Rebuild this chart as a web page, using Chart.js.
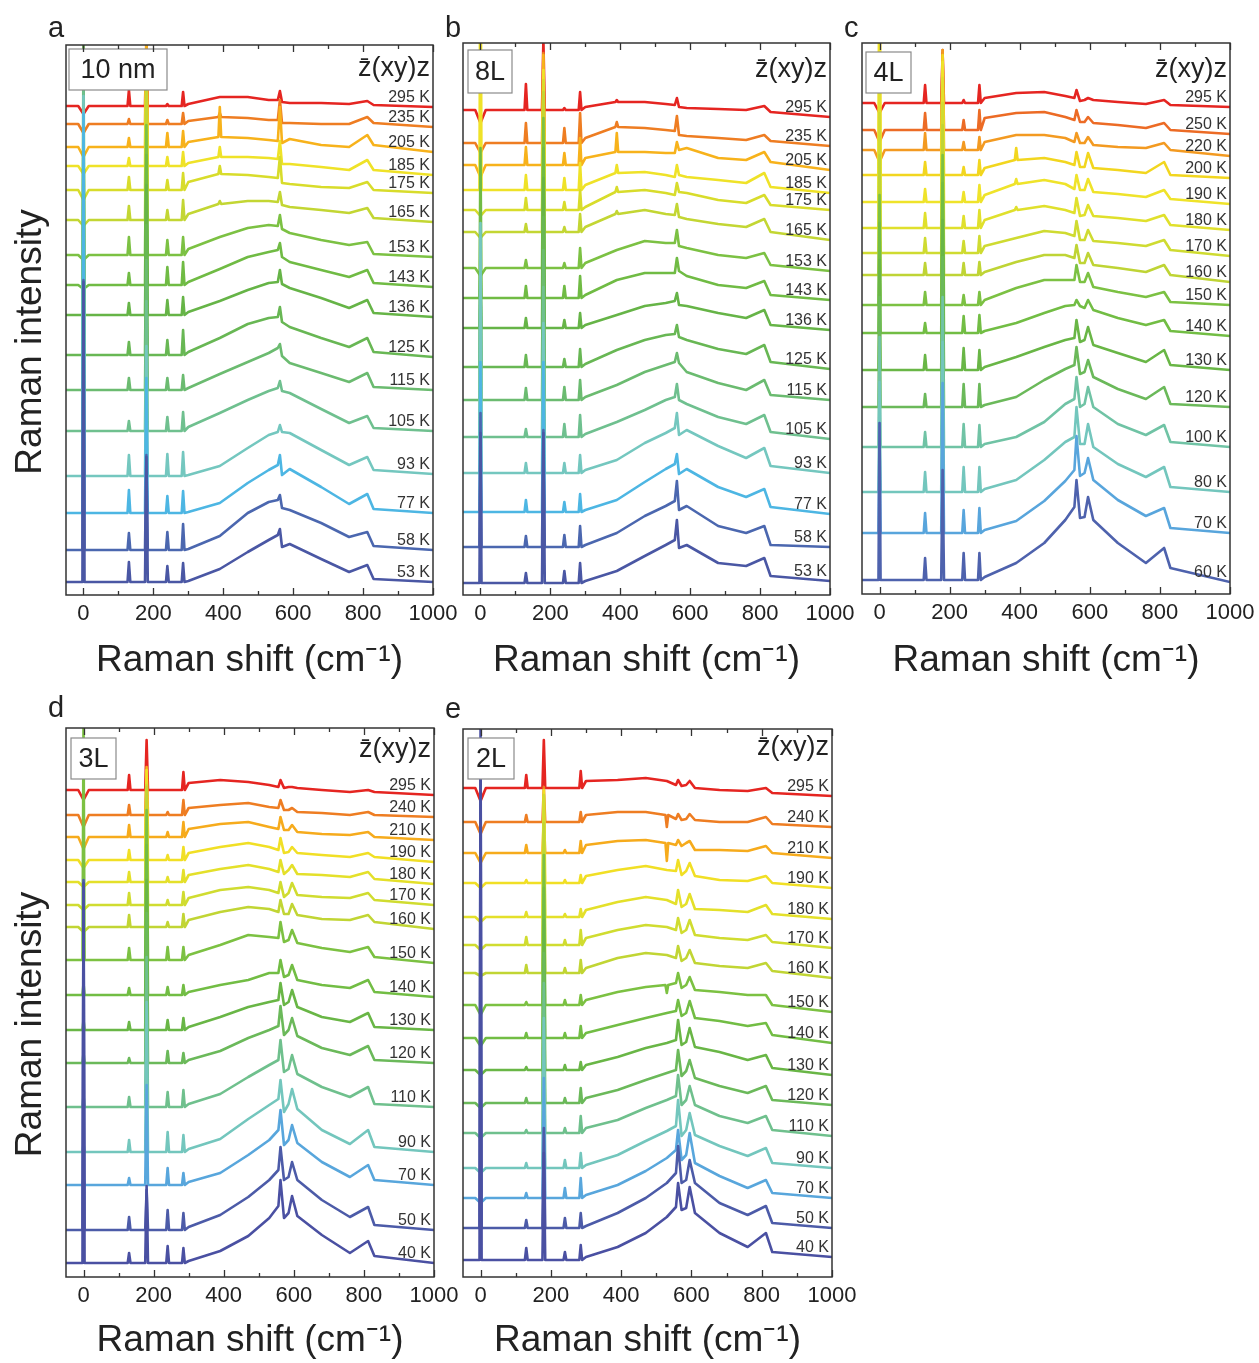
<!DOCTYPE html>
<html>
<head>
<meta charset="utf-8">
<script src="https://cdn.jsdelivr.net/npm/chart.js@4.4.1/dist/chart.umd.min.js"></script>
<style>
  body { margin: 0; background: #fff; width: 1259px; height: 1363px; position: relative; overflow: hidden; }
  canvas { position: absolute; }
</style>
</head>
<body>
<script>
// x axis (Raman shift, cm-1)
const shiftTicks = [0, 100, 200, 300, 400, 500, 600, 700, 800, 900, 1000];

// knots of the broad background, and positions of the sharp lines
const knotsAB = [300, 390, 470, 530, 556, 562, 568, 590, 680, 760, 812, 830, 1000];
const knotsCDE = [300, 390, 470, 530, 556, 562, 572, 585, 595, 610, 680, 760, 812, 830, 1000];
const peaksA = [0, 130, 180, 240, 285, 390];
const peaksB = [0, 130, 180, 240, 285, 390];
const peaksC = [0, 130, 180, 240, 285, 390];
const peaksD = [0, 130, 180, 240, 285];
const peaksE = [0, 130, 180, 240, 285, 530];

// ---- a: 10 nm ----
const tempsA = [295, 235, 205, 185, 175, 165, 153, 143, 136, 125, 115, 105, 93, 77, 58, 53];
const offsetA = [489, 471, 448, 429, 405, 375, 340, 310, 280, 240, 205, 164, 119, 82, 45, 13];
const bgA = [
  [2, 9, 9, 6, 6, 15, 4, 3, 3, 2, 5, 1, -1],
  [3, 7, 6, 4, 4, 24, 1, 1, 0, 0, 7, 1, -3],
  [5, 10, 9, 7, 6, 40, 4, 8, 2, 0, 12, 2, -5],
  [3, 9, 9, 8, 7, 25, 2, 2, -1, -4, 6, -4, -9],
  [8, 16, 15, 13, 12, 33, 7, 6, 3, 2, 8, 0, -3],
  [6, 16, 19, 19, 18, 28, 15, 13, 10, 7, 12, 2, -2],
  [6, 18, 27, 30, 29, 40, 26, 22, 15, 10, 13, 1, -2],
  [3, 16, 28, 33, 35, 42, 28, 23, 15, 8, 15, 2, -2],
  [3, 14, 25, 32, 33, 45, 31, 27, 17, 7, 15, 2, -2],
  [3, 17, 31, 37, 38, 48, 33, 28, 17, 8, 17, 3, -2],
  [2, 16, 28, 37, 42, 46, 34, 27, 17, 8, 17, 3, 0],
  [4, 18, 31, 40, 43, 50, 40, 38, 22, 8, 15, 3, 0],
  [1, 10, 28, 41, 44, 51, 44, 43, 26, 11, 19, 6, 2],
  [1, 10, 30, 43, 48, 58, 38, 44, 26, 9, 19, 4, 0],
  [1, 14, 37, 48, 50, 55, 42, 40, 27, 13, 18, 4, 0],
  [1, 13, 30, 42, 47, 53, 35, 38, 23, 10, 17, 3, 0]
];
const peakHA = [
  [-8, 16, 60, 2, 14, 0],
  [-9, 5, 90, 4, 11, 4],
  [-10, 9, 110, 14, 16, 30],
  [-8, 8, 110, 9, 14, 10],
  [-10, 13, 120, 10, 17, 8],
  [-6, 14, 130, 10, 20, 3],
  [-5, 18, 130, 15, 18, 0],
  [-4, 12, 130, 18, 23, 0],
  [280, 12, 130, 15, 18, 0],
  [250, 13, 130, 15, 25, 0],
  [300, 12, 130, 12, 15, 0],
  [340, 10, 130, 14, 19, 0],
  [380, 21, 130, 22, 24, 0],
  [400, 23, 135, 17, 22, 0],
  [270, 17, 95, 18, 26, 0],
  [300, 20, 125, 16, 19, 0]
];

// ---- b: 8L ----
const tempsB = [295, 235, 205, 185, 175, 165, 153, 143, 136, 125, 115, 105, 93, 77, 58, 53];
const offsetB = [485, 452, 430, 405, 385, 363, 327, 297, 267, 228, 195, 158, 122, 83, 48, 12];
const bgB = [
  [3, 8, 8, 6, 5, 12, 3, 2, 1, 0, 4, -2, -7],
  [5, 16, 15, 13, 12, 27, 8, 7, 5, 3, 8, 2, -3],
  [7, 13, 13, 12, 12, 23, 15, 17, 7, 5, 13, 3, -5],
  [5, 17, 18, 15, 13, 25, 15, 13, 10, 7, 17, 3, -3],
  [3, 18, 20, 17, 15, 27, 18, 17, 10, 7, 15, 5, 0],
  [5, 18, 22, 18, 17, 28, 15, 13, 8, 5, 13, 0, -8],
  [5, 18, 27, 25, 25, 38, 22, 20, 13, 10, 15, 3, -3],
  [3, 18, 25, 25, 25, 40, 27, 22, 13, 10, 17, 3, -2],
  [3, 13, 22, 25, 27, 35, 23, 22, 15, 10, 18, 3, -2],
  [3, 17, 27, 32, 33, 42, 30, 27, 18, 13, 22, 5, -2],
  [3, 15, 28, 35, 38, 47, 37, 28, 17, 10, 20, 5, 0],
  [3, 15, 27, 37, 40, 53, 37, 33, 20, 13, 22, 5, -2],
  [3, 13, 30, 40, 45, 60, 38, 43, 27, 15, 25, 7, 0],
  [2, 12, 30, 43, 48, 58, 38, 43, 25, 15, 23, 5, -2],
  [2, 14, 31, 41, 46, 66, 37, 41, 21, 14, 21, 2, 0],
  [2, 12, 27, 38, 43, 63, 35, 38, 20, 17, 25, 7, 2]
];
const peakHB = [
  [-13, 26, 70, 2, 18, 2],
  [-10, 20, 90, 15, 30, 5],
  [-12, 18, 110, 12, 27, 19],
  [300, 15, 120, 12, 27, 8],
  [-6, 12, 130, 8, 20, 5],
  [-6, 8, 140, 5, 18, 3],
  [-8, 8, 150, 5, 20, 0],
  [150, 12, 150, 12, 22, 0],
  [60, 10, 150, 8, 15, 0],
  [100, 12, 150, 8, 18, 0],
  [150, 12, 150, 13, 20, 0],
  [200, 8, 150, 13, 22, 0],
  [250, 10, 150, 10, 18, 0],
  [150, 12, 150, 10, 18, 0],
  [134, 11, 117, 12, 21, 0],
  [150, 10, 150, 12, 20, 0]
];

// ---- c: 4L ----
const tempsC = [295, 250, 220, 200, 190, 180, 170, 160, 150, 140, 130, 120, 100, 80, 70, 60];
const offsetC = [491, 464, 444, 419, 392, 366, 341, 319, 289, 261, 224, 187, 147, 102, 61, 14];
const bgC = [
  [5, 10, 11, 7, 5, 13, 2, 3, 5, 3, 1, -1, 3, -2, -4],
  [12, 17, 18, 13, 10, 20, 8, 8, 13, 7, 5, 2, 7, 0, -4],
  [8, 15, 15, 12, 8, 17, 7, 7, 13, 5, 3, 2, 7, 0, -6],
  [7, 15, 17, 13, 10, 23, 8, 8, 22, 7, 5, 2, 13, 0, -3],
  [7, 18, 22, 18, 13, 27, 12, 12, 23, 10, 8, 5, 12, 3, -2],
  [8, 18, 22, 18, 15, 30, 12, 13, 23, 12, 10, 7, 13, 3, -2],
  [7, 15, 22, 20, 17, 32, 13, 13, 23, 12, 10, 7, 13, 3, -3],
  [3, 13, 20, 20, 17, 30, 12, 12, 22, 10, 7, 3, 10, 0, -7],
  [5, 17, 25, 25, 25, 40, 23, 23, 32, 18, 13, 8, 13, 3, 0],
  [2, 10, 20, 27, 28, 33, 27, 25, 33, 23, 15, 8, 13, 2, -3],
  [3, 13, 23, 30, 32, 50, 28, 30, 43, 25, 17, 8, 20, 5, 0],
  [2, 10, 27, 38, 42, 60, 33, 35, 47, 30, 18, 8, 20, 3, 0],
  [3, 10, 25, 43, 48, 70, 40, 43, 60, 40, 23, 12, 22, 5, 0],
  [3, 12, 32, 50, 55, 85, 48, 48, 68, 45, 28, 15, 25, 5, 0],
  [3, 12, 32, 52, 63, 97, 57, 60, 75, 53, 33, 17, 25, 5, 0],
  [3, 17, 37, 60, 73, 100, 62, 63, 83, 60, 37, 17, 32, 12, -2]
];
const peakHC = [
  [-10, 18, 50, 3, 18, 0],
  [-12, 17, 80, 10, 20, 0],
  [-12, 17, 100, 8, 13, 0],
  [300, 13, 120, 8, 15, 12],
  [200, 13, 140, 10, 17, 5],
  [160, 15, 150, 12, 18, 3],
  [140, 15, 150, 12, 17, 0],
  [120, 12, 150, 12, 13, 0],
  [110, 13, 150, 10, 13, 0],
  [110, 10, 150, 17, 18, 0],
  [110, 15, 150, 22, 20, 0],
  [110, 13, 150, 23, 23, 0],
  [110, 15, 150, 23, 22, 0],
  [110, 20, 150, 25, 25, 0],
  [110, 20, 150, 23, 25, 0],
  [157, 22, 110, 27, 27, 0]
];

// ---- d: 3L ----
const tempsD = [295, 240, 210, 190, 180, 170, 160, 150, 140, 130, 120, 110, 90, 70, 50, 40];
const offsetD = [487, 462, 440, 417, 395, 372, 350, 317, 282, 247, 214, 170, 125, 92, 47, 14];
const bgD = [
  [7, 10, 8, 5, 3, 10, 2, 3, 3, 2, 0, -2, 0, -2, -5],
  [7, 10, 12, 8, 7, 15, 5, 5, 7, 3, 2, 0, 3, 0, -2],
  [8, 13, 15, 10, 8, 20, 7, 7, 12, 5, 3, 2, 5, 0, -3],
  [7, 13, 17, 13, 10, 22, 7, 8, 13, 7, 5, 3, 7, 3, -2],
  [7, 13, 17, 13, 10, 22, 8, 12, 17, 8, 7, 5, 10, 3, -2],
  [7, 15, 18, 15, 12, 23, 8, 12, 22, 10, 8, 7, 12, 5, 0],
  [7, 15, 20, 18, 15, 27, 13, 13, 23, 12, 8, 7, 12, 5, -2],
  [5, 15, 25, 23, 22, 38, 18, 20, 30, 17, 12, 8, 13, 3, -3],
  [3, 10, 15, 22, 22, 35, 18, 20, 30, 15, 10, 7, 15, 3, -2],
  [3, 13, 23, 28, 30, 47, 25, 28, 40, 23, 13, 8, 17, 3, 0],
  [3, 12, 25, 33, 37, 57, 28, 33, 45, 27, 15, 8, 17, 3, 0],
  [3, 13, 30, 42, 47, 67, 35, 38, 52, 33, 20, 10, 20, 3, 0],
  [3, 13, 33, 47, 53, 72, 40, 48, 63, 43, 22, 8, 22, 5, 0],
  [3, 12, 30, 45, 55, 75, 40, 45, 60, 42, 23, 8, 20, 5, 0],
  [3, 15, 33, 50, 60, 83, 50, 53, 68, 50, 30, 13, 23, 5, 0],
  [2, 12, 27, 45, 57, 83, 45, 50, 67, 47, 28, 10, 22, 7, 0]
];
const peakHD = [
  [-10, 15, 50, 0, 18],
  [-12, 10, 45, 3, 15],
  [-12, 12, 70, 5, 15],
  [-8, 10, 90, 5, 13],
  [-5, 10, 100, 5, 12],
  [-5, 12, 120, 5, 13],
  [-5, 12, 140, 5, 13],
  [240, 12, 150, 13, 13],
  [12, 7, 150, 8, 10],
  [10, 8, 150, 10, 12],
  [10, 5, 150, 12, 10],
  [12, 10, 150, 15, 17],
  [8, 12, 150, 20, 17],
  [8, 7, 100, 17, 12],
  [350, 13, 40, 20, 17],
  [380, 10, 77, 17, 15]
];

// ---- e: 2L ----
const tempsE = [295, 240, 210, 190, 180, 170, 160, 150, 140, 130, 120, 110, 90, 70, 50, 40];
const offsetE = [489, 455, 424, 394, 360, 332, 304, 272, 239, 207, 174, 144, 109, 79, 49, 17];
const bgE = [
  [7, 8, 10, 7, 3, 8, 2, 3, 7, 0, -2, -3, 0, -5, -8],
  [7, 10, 10, 7, 3, 8, 2, 3, 8, 2, 0, 0, 5, -2, -5],
  [8, 12, 13, 10, 8, 13, 7, 10, 12, 3, 3, 2, 7, 0, -5],
  [7, 13, 17, 13, 12, 23, 8, 12, 20, 7, 3, 2, 7, 0, -5],
  [7, 15, 20, 17, 13, 27, 10, 13, 23, 8, 7, 5, 12, 3, -2],
  [7, 15, 20, 18, 15, 27, 12, 15, 25, 10, 7, 5, 10, 3, -3],
  [5, 15, 20, 18, 15, 27, 12, 15, 23, 10, 7, 5, 10, 2, -5],
  [5, 13, 18, 20, 22, 32, 17, 20, 28, 15, 13, 10, 10, 0, -7],
  [5, 13, 20, 25, 27, 38, 22, 25, 37, 20, 17, 12, 15, 3, -5],
  [5, 13, 22, 27, 30, 50, 25, 28, 42, 23, 18, 10, 15, 2, -5],
  [5, 13, 23, 30, 33, 53, 27, 32, 43, 25, 17, 10, 17, 3, -2],
  [5, 13, 25, 33, 37, 58, 28, 33, 47, 28, 17, 10, 17, 3, -3],
  [3, 13, 27, 37, 42, 68, 32, 38, 55, 33, 22, 12, 20, 5, 0],
  [3, 13, 27, 40, 48, 68, 38, 43, 65, 35, 22, 10, 18, 5, 0],
  [2, 15, 30, 45, 55, 82, 45, 48, 68, 45, 25, 13, 22, 5, 0],
  [3, 13, 27, 43, 53, 77, 50, 52, 73, 47, 27, 13, 27, 8, 3]
];
const peakHE = [
  [-13, 13, 48, 0, 17, 0],
  [-12, 7, 35, 0, 10, -12],
  [-10, 8, 35, 3, 12, -18],
  [-5, 3, 93, 3, 8, 0],
  [-5, 5, 120, 3, 8, 0],
  [-5, 8, 150, 5, 15, 0],
  [-3, 8, 150, 5, 13, 0],
  [-10, 3, 150, 5, 10, -8],
  [-8, 5, 150, 5, 12, 0],
  [-5, 3, 150, 5, 8, 0],
  [-5, 5, 150, 5, 15, 0],
  [-5, 3, 150, 5, 17, 0],
  [-5, 5, 150, 8, 15, 0],
  [-5, 5, 120, 10, 20, 0],
  [480, 8, 100, 10, 15, 0],
  [540, 12, 107, 8, 15, 0]
];

// colours, red (hot) -> blue (cold)
const paletteAB = ['#e52521', '#ee7d22', '#f7b21b', '#efe228', '#d8dc2b', '#c3d633', '#7cc143', '#70bb44',
                   '#66b447', '#68b754', '#6bbb70', '#6fc08f', '#74c7bf', '#4db6e3', '#4b67af', '#4a57a4'];
const paletteC = ['#e52521', '#ec6b25', '#f39a21', '#f2d61f', '#efe32a', '#e0e02c', '#cfdb31', '#bfd435',
                  '#7cc143', '#72bd44', '#69b646', '#6bb95a', '#70c3a5', '#73c6bd', '#58a5dc', '#4e62ad'];
const paletteDE = ['#e52521', '#ee7d22', '#f6ab1c', '#f1df25', '#e4e02a', '#d0dc30', '#c1d534', '#7cc142',
                   '#72bd44', '#69b646', '#6bb95a', '#6fc08d', '#73c6bd', '#58a6dc', '#4c5ba8', '#4a50a2'];

const FONT = '"Liberation Sans", Arial, sans-serif';
Chart.defaults.font.family = FONT;
Chart.defaults.color = '#222';

// one spectrum: flat baseline with sharp lines below 300 cm-1, then the broad background
function spectrum(off, bg, ph, knots, peaks) {
  const pts = [{ x: -50, y: off }];
  peaks.forEach((p, j) => {
    if (p >= 300) return;
    const h = ph[j];
    const w = p === 0 ? (h < 0 ? 15 : 3) : 4;
    pts.push({ x: p - w, y: off }, { x: p, y: off + h }, { x: p + w, y: off });
  });
  knots.forEach((k, i) => {
    const j = peaks.indexOf(k);
    const v = off + bg[i];
    if (j >= 0 && ph[j] !== 0) {
      pts.push({ x: k - 4, y: v }, { x: k, y: v + ph[j] }, { x: k + 4, y: v });
    } else {
      pts.push({ x: k, y: v });
    }
  });
  return pts;
}

const annot = {
  id: 'annot',
  afterDatasetsDraw(chart, args, o) {
    const ctx = chart.ctx, a = chart.chartArea;
    const xs = chart.scales.x, ys = chart.scales.y;
    ctx.save();
    // sample box (opaque, above the curves)
    ctx.fillStyle = '#fff';
    ctx.strokeStyle = '#8a8a8a';
    ctx.lineWidth = 1.2;
    ctx.fillRect(a.left + o.box[0], a.top + o.box[1], o.box[2], o.box[3]);
    ctx.strokeRect(a.left + o.box[0], a.top + o.box[1], o.box[2], o.box[3]);
    ctx.fillStyle = '#222';
    ctx.font = '27px ' + FONT;
    ctx.textAlign = 'center';
    ctx.textBaseline = 'middle';
    ctx.fillText(o.sample, a.left + o.box[0] + o.box[2] / 2, a.top + o.box[1] + o.box[3] / 2 + 1);
    // frame
    ctx.strokeStyle = '#333';
    ctx.lineWidth = 1.5;
    ctx.strokeRect(a.left, a.top, a.right - a.left, a.bottom - a.top);
    // inward ticks on top and bottom
    ctx.lineWidth = 1.3;
    ctx.beginPath();
    shiftTicks.forEach(v => {
      const px = Math.round(xs.getPixelForValue(v)) + 0.5;
      const len = v % 200 === 0 ? 7 : 4;
      ctx.moveTo(px, a.bottom); ctx.lineTo(px, a.bottom - len);
      ctx.moveTo(px, a.top); ctx.lineTo(px, a.top + len);
    });
    ctx.stroke();
    // temperature labels
    ctx.fillStyle = '#333';
    ctx.font = '16px ' + FONT;
    ctx.textAlign = 'right';
    ctx.textBaseline = 'middle';
    o.temps.forEach((t, i) => {
      const end = o.off[i] + o.bg[i][o.bg[i].length - 1];
      ctx.fillText(t + ' K', a.right - 3, ys.getPixelForValue(end) - 9);
    });
    // scattering geometry
    ctx.fillStyle = '#222';
    ctx.font = '27px ' + FONT;
    ctx.fillText('z\u0304(xy)z', a.right - 3, a.top + o.geoDy);
    // panel letter
    ctx.textAlign = 'left';
    ctx.textBaseline = 'alphabetic';
    ctx.font = '29px ' + FONT;
    ctx.fillText(o.letter, a.left - 18, a.top + o.letterDy);
    // y title
    if (o.yTitle) {
      ctx.save();
      ctx.translate(31, (a.top + a.bottom) / 2 + 22);
      ctx.rotate(-Math.PI / 2);
      ctx.textAlign = 'center';
      ctx.textBaseline = 'middle';
      ctx.font = '37px ' + FONT;
      ctx.fillText('Raman intensity', 0, 0);
      ctx.restore();
    }
    ctx.restore();
  }
};

const panels = [
  { letter: 'a', sample: '10 nm', temps: tempsA, off: offsetA, bg: bgA, ph: peakHA, knots: knotsAB, peaks: peaksA, colors: paletteAB,
    left: 0, top: 0, w: 463, h: 683, yW: 66, padTop: 45, padRight: 30, xH: 88, yMax: 550, yTitle: true,
    box: [3, 4, 98, 41], geoDy: 24, letterDy: -8 },
  { letter: 'b', sample: '8L', temps: tempsB, off: offsetB, bg: bgB, ph: peakHB, knots: knotsAB, peaks: peaksB, colors: paletteAB,
    left: 440, top: 0, w: 420, h: 683, yW: 23, padTop: 43, padRight: 30, xH: 88, yMax: 552, yTitle: false,
    box: [5, 7, 44, 43], geoDy: 27, letterDy: -6 },
  { letter: 'c', sample: '4L', temps: tempsC, off: offsetC, bg: bgC, ph: peakHC, knots: knotsCDE, peaks: peaksC, colors: paletteC,
    left: 840, top: 0, w: 422, h: 683, yW: 22, padTop: 43, padRight: 32, xH: 89, yMax: 551, yTitle: false,
    box: [4, 9, 45, 41], geoDy: 27, letterDy: -6 },
  { letter: 'd', sample: '3L', temps: tempsD, off: offsetD, bg: bgD, ph: peakHD, knots: knotsCDE, peaks: peaksD, colors: paletteDE,
    left: 0, top: 685, w: 463, h: 678, yW: 66, padTop: 43, padRight: 29, xH: 86, yMax: 549, yTitle: true,
    box: [5, 10, 45, 41], geoDy: 22, letterDy: -11 },
  { letter: 'e', sample: '2L', temps: tempsE, off: offsetE, bg: bgE, ph: peakHE, knots: knotsCDE, peaks: peaksE, colors: paletteDE,
    left: 440, top: 685, w: 422, h: 678, yW: 23, padTop: 44, padRight: 30, xH: 86, yMax: 548, yTitle: false,
    box: [5, 9, 46, 41], geoDy: 19, letterDy: -11 }
];

panels.forEach(p => {
  const cv = document.createElement('canvas');
  cv.width = p.w; cv.height = p.h;
  cv.style.left = p.left + 'px'; cv.style.top = p.top + 'px';
  cv.style.width = p.w + 'px'; cv.style.height = p.h + 'px';
  document.body.appendChild(cv);

  const n = p.temps.length;
  const datasets = p.temps.map((t, i) => ({
    label: t + ' K',
    data: spectrum(p.off[i], p.bg[i], p.ph[i], p.knots, p.peaks),
    borderColor: p.colors[i],
    borderWidth: 2.6,
    borderJoinStyle: 'round',
    pointRadius: 0,
    tension: 0,
    order: n - i
  }));

  new Chart(cv.getContext('2d'), {
    type: 'line',
    data: { datasets },
    options: {
      responsive: false,
      animation: false,
      events: [],
      layout: { padding: { left: 0, right: p.padRight, top: p.padTop, bottom: 0 } },
      plugins: { legend: { display: false }, tooltip: { enabled: false }, annot: p },
      scales: {
        x: {
          type: 'linear', min: -50, max: 1000, position: 'bottom',
          afterBuildTicks: ax => { ax.ticks = shiftTicks.map(v => ({ value: v })); },
          afterFit: ax => { ax.height = p.xH; },
          ticks: { autoSkip: false, maxRotation: 0, padding: -2, color: '#222', font: { size: 22 },
                   callback: v => (v % 200 === 0 ? String(v) : '') },
          grid: { display: false },
          border: { display: false },
          title: { display: true, text: 'Raman shift (cm\u207B\u00B9)', color: '#222', font: { size: 37 },
                   padding: { top: 0, bottom: 0 } }
        },
        y: {
          type: 'linear', min: 0, max: p.yMax, position: 'left',
          afterFit: ax => { ax.width = p.yW; },
          ticks: { display: false },
          grid: { display: false },
          border: { display: false }
        }
      }
    },
    plugins: [annot]
  });
});
</script>
</body>
</html>
